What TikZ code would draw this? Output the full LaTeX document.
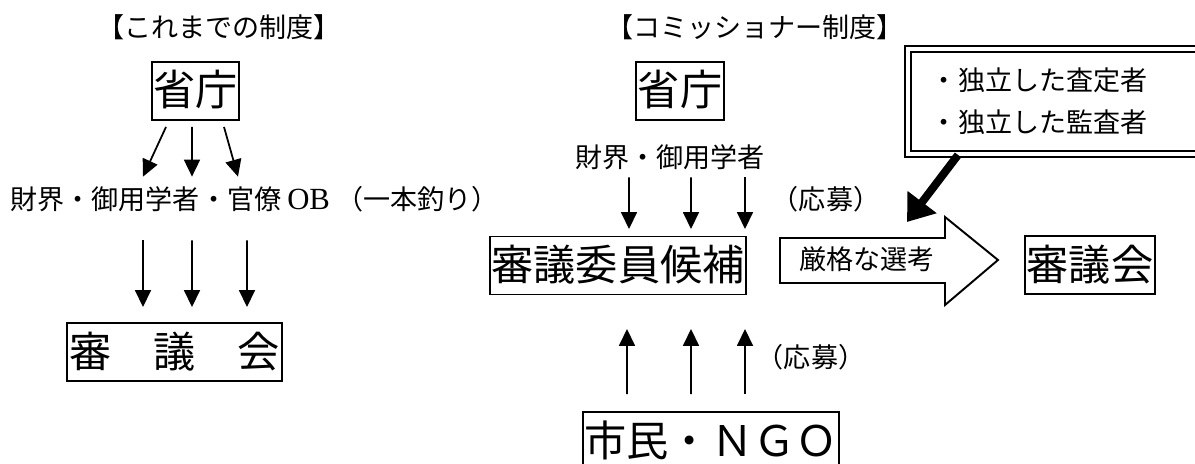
\documentclass[tikz,border=0pt]{standalone}
\usepackage{fontspec}
\setmainfont{Noto Sans CJK JP}
\newfontfamily\lat{Liberation Serif}
\usetikzlibrary{arrows.meta}
\tikzset{
  big/.style={draw,line width=1.1pt,inner xsep=1pt,inner ysep=0pt,minimum height=1.16cm,text height=0.72cm,text depth=0.12cm,font=\fontsize{24}{28}\selectfont},
  txt/.style={inner sep=0pt,text height=0.46cm,text depth=0.08cm,font=\fontsize{15.4}{24}\selectfont},
  arr/.style={line width=1pt,-{Triangle[length=0.34cm,width=0.32cm]}},
  fat/.style={line width=0.16cm,-{Triangle[length=0.5cm,width=0.7cm]}}
}
\begin{document}
\begin{tikzpicture}
\useasboundingbox (0,0) rectangle (23.9,9.26);
\node[txt] (head1) at (4.38,8.70) {【これまでの制度】};
\node[txt] (head2) at (15.10,8.70) {【コミッショナー制度】};
\node[big] (s1) at (3.91,7.44) {省庁};
\node[big] (s2) at (13.60,7.44) {省庁};
\node[txt] (f1) at (5.09,5.26) {財界・御用学者・官僚 {\lat\fontsize{17.5}{24}\selectfont OB} （一本釣り）};
\node[txt] (f2) at (13.40,6.10) {財界・御用学者};
\node[big] (c1) at (3.49,2.22) {審　議　会};
\node[big] (cand) at (12.36,3.95) {審議委員候補};
\node[big] (ngo) at (14.22,0.44) {市民・ＮＧＯ};
\node[big] (c2) at (21.80,3.96) {審議会};
\node[txt] (ap1) at (16.52,5.26) {（応募）};
\node[txt] (ap2) at (16.22,2.10) {（応募）};
\node[draw,double,line width=1.1pt,double distance=2.4pt,anchor=north west,minimum height=2.1cm,inner xsep=0.46cm,text width=5.4cm,align=left,font=\fontsize{15.4}{23.9}\selectfont] (note) at (18.14,8.30) {・独立した査定者\\・独立した監査者};
\draw[line width=1.1pt,line join=miter] (15.60,4.50) -- (18.90,4.50) -- (18.90,4.92) -- (19.96,4.06) -- (18.90,3.16) -- (18.90,3.60) -- (15.60,3.60) -- cycle;
\node[txt] (sel) at (17.34,4.06) {厳格な選考};
\coordinate (aim) at (18.14,4.82);
\draw[fat] ([xshift=1.02cm]note.south west) -- (aim);
\foreach \a/\b in {-0.59/-2.23,-0.07/-1.25,0.57/-0.33}
  \draw[arr] ([shift={(\a,-0.12)}]s1.south) -- ([shift={(\b,0.19)}]f1.north);
\foreach \a/\b in {-2.23/-0.63,-1.25/0.35,-0.15/1.45}
  \draw[arr] ([shift={(\a,-0.53)}]f1.south) -- ([shift={(\b,0.30)}]c1.north);
\foreach \a/\b in {-0.82/0.22,0.42/1.46,1.50/2.54}
  \draw[arr] ([shift={(\a,-0.11)}]f2.south) -- ([shift={(\b,0.13)}]cand.north);
\foreach \a/\b in {-1.68/0.18,-0.40/1.46,0.68/2.54}
  \draw[arr] ([shift={(\a,0.34)}]ngo.north) -- ([shift={(\b,-0.67)}]cand.south);
\end{tikzpicture}
\end{document}
